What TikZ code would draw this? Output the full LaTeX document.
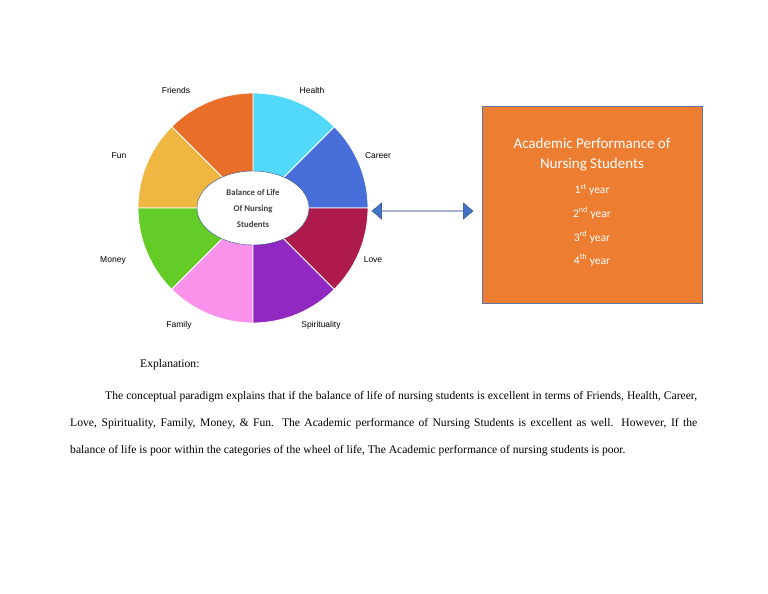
\documentclass[tikz,border=0pt]{standalone}
\usepackage{fontspec}
\setmainfont{Liberation Serif}
\setsansfont{Liberation Sans}
\newfontfamily\carlito{Carlito}
\usetikzlibrary{positioning,shapes,arrows}
\definecolor{healthcyan}{RGB}{82,216,250}
\definecolor{careerblue}{RGB}{72,110,218}
\definecolor{lovered}{RGB}{174,26,76}
\definecolor{spiritpurple}{RGB}{146,40,194}
\definecolor{familypink}{RGB}{250,146,236}
\definecolor{moneygreen}{RGB}{100,204,38}
\definecolor{funyellow}{RGB}{240,182,66}
\definecolor{friendsorange}{RGB}{233,110,42}
\definecolor{perforange}{RGB}{237,125,49}
\definecolor{arrowblue}{RGB}{70,114,196}
\begin{document}
\begin{tikzpicture}[x=1pt, y=-1pt, every node/.style={font=\sffamily\fontsize{8.5}{10}\selectfont}]
\useasboundingbox (0,0) rectangle (768,594);
% wheel of life
\foreach \col/\a in {careerblue/0, healthcyan/45, friendsorange/90, funyellow/135, moneygreen/180, familypink/225, spiritpurple/270, lovered/315}
  \fill[\col, draw=white, line width=0.8pt] (253,208) -- ++(-\a:115) arc[start angle=-\a, delta angle=-45, radius=115] -- cycle;
% hub
\node[draw=arrowblue!70!black, fill=white, ellipse, minimum width=112pt, minimum height=74pt, inner sep=0pt, align=center, font=\carlito\bfseries\fontsize{8.8}{16}\selectfont, text=black!75] (hub) at (253,208) {Balance of Life\\Of Nursing\\Students};

% labels
\node (friends) at (176,90) {Friends};
\node (health) at (312,90) {Health};
\node (career) at (378,156) {Career};
\node (love) at (373,260) {Love};
\node (spirit) at (321,325) {Spirituality};
\node (family) at (179,325) {Family};
\node (money) at (113,260) {Money};
\node (fun) at (119,156) {Fun};

% academic performance
\node[draw=arrowblue!60!gray, fill=perforange, minimum width=220pt, minimum height=197pt, inner sep=0pt] (perf) at (592,204.5) {};
\node[text=white, align=center, font=\carlito\fontsize{15}{20}\selectfont] (title) at (592,155) {Academic Performance of\\Nursing Students};
\foreach \n/\s/\y in {1/st/190, 2/nd/213, 3/rd/237, 4/th/260}
  \node[text=white, font=\carlito\fontsize{11.5}{13}\selectfont] (year\n) at (592,\y) {\n\textsuperscript{\s}\ year};

% link
\node[double arrow, draw=arrowblue!70!black, fill=arrowblue, minimum width=16pt, minimum height=101pt, double arrow head extend=8pt, inner sep=0pt, double arrow tip angle=80] (link) at (422.5,211) {};

% explanation
\node[anchor=west, inner sep=0pt, font=\rmfamily\fontsize{11.6}{14}\selectfont] (expl) at (140,365) {Explanation:};
\node[anchor=north west, text width=627pt, align=justify, inner sep=0pt, font=\rmfamily\fontsize{11.6}{27}\selectfont] (para) at (70,391) {\hspace*{35pt}The conceptual paradigm explains that if the balance of life of nursing students is excellent in terms of Friends, Health, Career,\linebreak Love, Spirituality, Family, Money, \& Fun. The Academic performance of Nursing Students is excellent as well. However, If the\linebreak balance of life is poor within the categories of the wheel of life, The Academic performance of nursing students is poor.};
\end{tikzpicture}
\end{document}
